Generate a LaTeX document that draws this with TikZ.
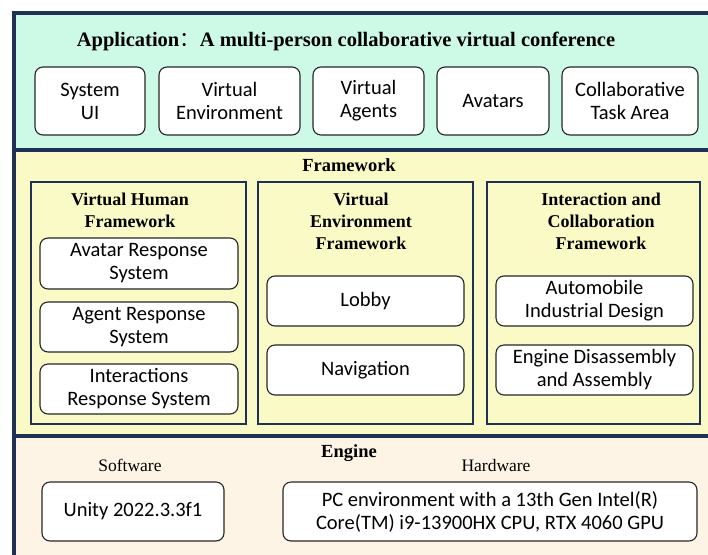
\documentclass[tikz,border=0pt]{standalone}
\usepackage{fontspec}
\setmainfont{Liberation Serif}
\newfontfamily\boxfont{Carlito}
\newfontfamily\cjk{Noto Sans CJK SC}
\definecolor{navy}{HTML}{1F3154}
\definecolor{appgreen}{HTML}{CDFAE6}
\definecolor{fwyellow}{HTML}{FAFAC6}
\definecolor{engcream}{HTML}{FDF4E6}
\tikzset{
  whitebox/.style={draw=black!85, fill=white, rounded corners=8pt, line width=1.1pt,
    font=\boxfont\fontsize{20.5}{23}\selectfont, align=center, inner sep=0pt},
  subframe/.style={draw=navy, line width=1.8pt, inner sep=0pt},
  bandtitle/.style={font=\bfseries\fontsize{18.5}{20}\selectfont, inner sep=0pt},
  subtitle/.style={font=\bfseries\fontsize{18}{22}\selectfont, align=center, inner sep=0pt},
  plainlabel/.style={font=\fontsize{17.5}{18}\selectfont, inner sep=0pt},
  frameline/.style={draw=navy, line width=4pt}
}
\begin{document}
\begin{tikzpicture}[x=1pt,y=-1pt]
\useasboundingbox (0,0) rectangle (708,554);
\fill[white] (0,0) rectangle (708,554);
% bands
\fill[appgreen] (14,14) rectangle (720,150);
\fill[fwyellow] (14,150) rectangle (720,436);
\fill[engcream] (14,436) rectangle (720,560);
\draw[frameline] (14,560) -- (14,13) -- (720,13);
\draw[frameline] (14,150) -- (720,150);
\draw[frameline] (14,436) -- (720,436);

% Application
\node[bandtitle, font=\bfseries\fontsize{20.5}{22}\selectfont] (apptitle) at (346,41) {Application{\cjk\mdseries ：}A multi-person collaborative virtual conference};
\node[whitebox, minimum width=110, minimum height=68] (sysui) at (90,101) {System\\UI};
\node[whitebox, minimum width=141, minimum height=68] (venv) at (229.5,101) {Virtual\\Environment};
\node[whitebox, minimum width=111, minimum height=68] (vagents) at (368.5,101) {Virtual\\Agents};
\node[whitebox, minimum width=112, minimum height=68] (avatars) at (493,101) {Avatars};
\node[whitebox, minimum width=136, minimum height=68] (collab) at (630,101) {Collaborative\\Task Area};

% Framework
\node[bandtitle] (fwtitle) at (349,165) {Framework};
\node[subframe, minimum width=215, minimum height=242] (vhf) at (138.5,303) {};
\node[subframe, minimum width=215, minimum height=242] (vef) at (365.5,303) {};
\node[subframe, minimum width=213, minimum height=242] (icf) at (593.5,303) {};

\node[subtitle] (vhft) at (130,210) {Virtual Human\\Framework};
\node[subtitle] (veft) at (361,221) {Virtual\\Environment\\Framework};
\node[subtitle] (icft) at (601,221) {Interaction and\\Collaboration\\Framework};

\node[whitebox, minimum width=198, minimum height=51] (ars) at (139,263.5) {Avatar Response\\System};
\node[whitebox, minimum width=198, minimum height=50] (ags) at (139,327) {Agent Response\\System};
\node[whitebox, minimum width=198, minimum height=50] (irs) at (139,389) {Interactions\\Response System};

\node[whitebox, minimum width=197, minimum height=50] (lobby) at (365.5,301) {Lobby};
\node[whitebox, minimum width=197, minimum height=50] (nav) at (365.5,370) {Navigation};

\node[whitebox, minimum width=197, minimum height=50] (auto) at (594.5,301) {Automobile\\Industrial Design};
\node[whitebox, minimum width=197, minimum height=50] (eng) at (594.5,370) {Engine Disassembly\\and Assembly};

% Engine
\node[bandtitle] (engtitle) at (349,453) {Engine};
\node[plainlabel] (sw) at (130,465) {Software};
\node[plainlabel] (hw) at (496,466) {Hardware};
\node[whitebox, minimum width=182, minimum height=59] (unity) at (133,511.5) {Unity 2022.3.3f1};
\node[whitebox, minimum width=414, minimum height=59] (pc) at (490,511.5) {PC environment with a 13th Gen Intel(R)\\Core(TM) i9-13900HX CPU, RTX 4060 GPU};
\end{tikzpicture}
\end{document}
